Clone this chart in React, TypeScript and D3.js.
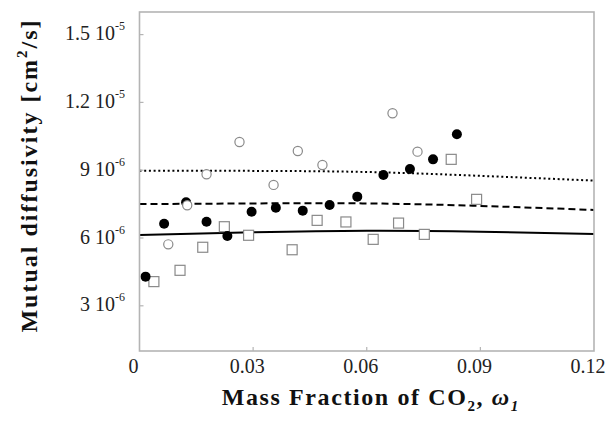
import React from "react";
import * as d3 from "d3";

// x: mass fraction of CO2; y: mutual diffusivity in units of 1e-6 cm^2/s
const filledX = [0.0016, 0.0065, 0.0123, 0.0177, 0.0232, 0.0296, 0.036, 0.0431, 0.0502, 0.0575, 0.0644, 0.0714, 0.0775, 0.0838];
const filledY = [4.29, 6.63, 7.58, 6.72, 6.09, 7.16, 7.34, 7.21, 7.46, 7.83, 8.79, 9.05, 9.48, 10.59];

const openX = [0.0076, 0.0126, 0.0177, 0.0264, 0.0354, 0.0418, 0.0483, 0.0668, 0.0734];
const openY = [5.72, 7.45, 8.82, 10.25, 8.35, 9.85, 9.23, 11.52, 9.82];

const squareX = [0.0038, 0.0107, 0.0167, 0.0224, 0.0288, 0.0403, 0.0469, 0.0545, 0.0617, 0.0684, 0.0752, 0.0823, 0.089];
const squareY = [4.07, 4.57, 5.59, 6.5, 6.12, 5.48, 6.78, 6.71, 5.94, 6.66, 6.16, 9.48, 7.71];

const curveX = [0, 0.03, 0.06, 0.09, 0.12];
const solidY = [6.13, 6.25, 6.32, 6.28, 6.18];
const dashedY = [7.5, 7.53, 7.53, 7.42, 7.24];
const dottedY = [8.98, 8.97, 8.92, 8.75, 8.54];

const xTicks = [0, 0.03, 0.06, 0.09, 0.12];
const xTickLabels = ["0", "0.03", "0.06", "0.09", "0.12"];
const yTicks = [3, 6, 9, 12, 15];
const yTickMantissa = ["3", "6", "9", "1.2", "1.5"];
const yTickExp = ["-6", "-6", "-6", "-5", "-5"];

export default function App() {
  const W = 610, H = 422;
  const left = 139.5, right = 594, top = 12, bottom = 351;
  const x = d3.scaleLinear().domain([0, 0.12]).range([left, right]);
  const y = d3.scaleLinear().domain([1, 16]).range([bottom, top]);
  const line = d3
    .line<[number, number]>()
    .x((d) => x(d[0]))
    .y((d) => y(d[1]))
    .curve(d3.curveNatural);
  const mk = (ys: number[]) => curveX.map((v, i) => [v, ys[i]] as [number, number]);
  const axisColor = "#b4b4b4";
  const font = "Liberation Serif, serif";
  const sq = 10;

  return (
    <svg width={W} height={H} style={{ position: "absolute", left: 0, top: 0, background: "#fff", fontFamily: font }}>
      <rect x={0} y={0} width={W} height={H} fill="#fff" />
      {/* curves */}
      <path d={line(mk(solidY)) || ""} fill="none" stroke="#000" strokeWidth={2} />
      <path d={line(mk(dashedY)) || ""} fill="none" stroke="#000" strokeWidth={2} strokeDasharray="7,4" />
      <path d={line(mk(dottedY)) || ""} fill="none" stroke="#000" strokeWidth={2} strokeDasharray="2,2.7" />
      {/* squares */}
      {squareX.map((v, i) => (
        <rect key={"s" + i} x={x(v) - sq / 2} y={y(squareY[i]) - sq / 2} width={sq} height={sq} fill="#fff" stroke="#8a8a8a" strokeWidth={1.2} />
      ))}
      {/* filled circles */}
      {filledX.map((v, i) => (
        <circle key={"f" + i} cx={x(v)} cy={y(filledY[i])} r={5} fill="#000" />
      ))}
      {/* open circles */}
      {openX.map((v, i) => (
        <circle key={"o" + i} cx={x(v)} cy={y(openY[i])} r={4.6} fill="#fff" stroke="#8a8a8a" strokeWidth={1.2} />
      ))}
      {/* frame */}
      <rect x={left} y={top} width={right - left} height={bottom - top} fill="none" stroke={axisColor} strokeWidth={1.6} />
      {/* ticks */}
      {xTicks.slice(1, -1).map((t, i) => (
        <line key={"xt" + i} x1={x(t)} x2={x(t)} y1={bottom} y2={bottom - 4} stroke={axisColor} strokeWidth={1.2} />
      ))}
      {yTicks.map((t, i) => (
        <line key={"yt" + i} x1={left} x2={left + 4} y1={y(t)} y2={y(t)} stroke={axisColor} strokeWidth={1.2} />
      ))}
      {/* x tick labels */}
      {xTicks.map((t, i) => (
        <text key={"xl" + i} x={x(t) - 6} y={bottom + 22} textAnchor="middle" fontSize={20} fill="#222">
          {xTickLabels[i]}
        </text>
      ))}
      {/* y tick labels */}
      {yTicks.map((t, i) => (
        <text key={"yl" + i} x={125} y={y(t) + 5.5} textAnchor="end" fontSize={20} fill="#222">
          {yTickMantissa[i] + " 10"}
          <tspan fontSize={12} dy={-10}>{yTickExp[i]}</tspan>
        </text>
      ))}
      {/* axis titles */}
      <text x={(left + right) / 2 + 4} y={405} textAnchor="middle" fontSize={24} fontWeight="bold" letterSpacing={1.6} fill="#111">
        Mass Fraction of CO
        <tspan fontSize={15} dy={6}>2</tspan>
        <tspan dy={-6}>, </tspan>
        <tspan fontStyle="italic">ω</tspan>
        <tspan fontSize={15} fontStyle="italic" dy={6}>1</tspan>
      </text>
      <text transform={`translate(37,${(18 + 333) / 2}) rotate(-90)`} textAnchor="middle" fontSize={24} fontWeight="bold" letterSpacing={2} fill="#111">
        Mutual diffusivity [cm
        <tspan fontSize={15} dy={-10}>2</tspan>
        <tspan dy={10}>/s]</tspan>
      </text>
    </svg>
  );
}
